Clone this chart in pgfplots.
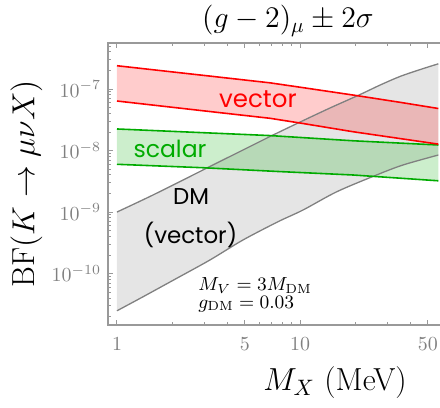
\RequirePackage{fix-cm}
\documentclass[border=0pt]{standalone}
\usepackage{fontspec}
\newfontfamily\annot{Poppins}
\usepackage{pgfplots}
\usepackage{pgfplotstable}
\pgfplotsset{compat=1.18}
\usepgfplotslibrary{fillbetween}
\usetikzlibrary{calc}
\definecolor{mgreen}{rgb}{0,0.67,0}
\definecolor{mred}{rgb}{1,0,0}
\definecolor{axgray}{gray}{0.6}
\definecolor{lblgray}{gray}{0.5}
\definecolor{dmgray}{gray}{0.5}

\pgfplotstableread{
x y
1 2.39e-7
2.95 1.67e-7
6.86 1.26e-7
10 1.07e-7
19.5 7.98e-8
35.2 6.08e-8
57 4.82e-8
}\redup
\pgfplotstableread{
x y
1 6.38e-8
2.95 4.43e-8
6.86 3.34e-8
10 2.80e-8
19.5 2.02e-8
57 1.27e-8
}\redlo
\pgfplotstableread{
x y
1 2.24e-8
2.95 1.95e-8
6.86 1.75e-8
19.5 1.44e-8
57 1.23e-8
}\grup
\pgfplotstableread{
x y
1 5.97e-9
2.95 5.25e-9
7.58 4.56e-9
19.5 4.00e-9
57 3.22e-9
}\grlo
\pgfplotstableread{
x y
1 1.0e-9
1.514 1.79e-9
2.21 3.13e-9
3.22 5.50e-9
4.70 9.64e-9
6.86 1.69e-8
10 2.90e-8
14.58 4.91e-8
21.3 8.14e-8
27.4 1.16e-7
35.2 1.60e-7
45.3 2.07e-7
57 2.57e-7
}\dmup
\pgfplotstableread{
x y
1 2.48e-11
1.39 4.20e-11
2.12 8.36e-11
3.22 1.66e-10
4.88 3.51e-10
7.58 6.95e-10
10.4 1.08e-9
15.9 2.14e-9
26.2 4.00e-9
36.5 5.81e-9
57 8.45e-9
}\dmlo

\begin{document}
\begin{tikzpicture}
\begin{axis}[
  xmode=log, ymode=log,
  scale only axis, width=172bp, height=141bp,
  xmin=0.893, xmax=67.7, ymin=1.456e-11, ymax=5.6e-7,
  xtick={1,5,10,50}, xticklabels={$1$,$5$,$10$,$50$},
  minor xtick={2,3,4,6,7,8,9,20,30,40},
  ytick={1e-10,1e-9,1e-8,1e-7},
  yticklabels={$10^{-10}$,$10^{-9}$,$10^{-8}$,$10^{-7}$},
  minor ytick={2e-11,3e-11,4e-11,5e-11,6e-11,7e-11,8e-11,9e-11,
               2e-10,3e-10,4e-10,5e-10,6e-10,7e-10,8e-10,9e-10,
               2e-9,3e-9,4e-9,5e-9,6e-9,7e-9,8e-9,9e-9,
               2e-8,3e-8,4e-8,5e-8,6e-8,7e-8,8e-8,9e-8,
               2e-7,3e-7,4e-7,5e-7},
  tick align=inside,
  xticklabel pos=lower, yticklabel pos=left,
  xtick pos=both, ytick pos=both,
  major tick length=2.5bp, minor tick length=1.4bp,
  axis line style={axgray, line width=0.6pt},
  every tick/.style={axgray, line width=0.5pt},
  tick label style={lblgray, font=\fontsize{10}{12}\selectfont},
  xticklabel style={yshift=-3bp},
  title={$(g-2)_\mu \pm 2\sigma$},
  title style={at={(axis description cs:0.523,1)}, anchor=south, yshift=-2.8bp, inner sep=0pt, font=\fontsize{15}{17}\selectfont},
  xlabel={$M_X$ (MeV)},
  xlabel style={at={(axis description cs:0.660,0)}, anchor=north, yshift=-20.8bp, inner sep=0pt, font=\fontsize{16}{19}\selectfont},
  ylabel={$\mathrm{BF}(K \to \mu\nu X)$},
  ylabel style={at={(axis description cs:-0.285,0.5)}, anchor=north, inner sep=0pt, font=\fontsize{16}{19}\selectfont},
]
\coordinate (sw) at (rel axis cs:0,0);
\addplot[name path=dmu, draw=none, forget plot] table {\dmup};
\addplot[name path=dml, draw=none, forget plot] table {\dmlo};
\addplot[black, fill opacity=0.1, draw=none] fill between[of=dmu and dml];
\addplot[name path=gu, draw=none, forget plot] table {\grup};
\addplot[name path=gl, draw=none, forget plot] table {\grlo};
\addplot[mgreen, fill opacity=0.2, draw=none] fill between[of=gu and gl];
\addplot[name path=ru, draw=none, forget plot] table {\redup};
\addplot[name path=rl, draw=none, forget plot] table {\redlo};
\addplot[mred, fill opacity=0.2, draw=none] fill between[of=ru and rl];

\addplot[dmgray, line width=0.65pt, smooth] table {\dmup};
\addplot[dmgray, line width=0.65pt, smooth] table {\dmlo};
\addplot[mgreen, line width=0.8pt] table {\grup};
\addplot[mgreen, line width=0.8pt] table {\grlo};
\addplot[mred, line width=0.8pt] table {\redup};
\addplot[mred, line width=0.8pt] table {\redlo};

\node[font=\annot\fontsize{12.3}{14}\selectfont, text=mred] at (axis cs:5.89,6.88e-8) {vector};
\node[font=\annot\fontsize{11.8}{14}\selectfont, text=mgreen] at (axis cs:1.948,1.08e-8) {scalar};
\node[font=\annot\fontsize{11.5}{14}\selectfont, text=black] at (axis cs:2.54,1.82e-9) {DM};
\node[font=\annot\fontsize{11.5}{14}\selectfont, text=black] at (axis cs:2.522,4.31e-10) {(vector)};
\node[anchor=base west, inner sep=0pt, font=\fontsize{9.5}{11}\selectfont] at (axis cs:2.77,5.25e-11) {$M_V = 3M_{\mathrm{DM}}$};
\node[anchor=base west, inner sep=0pt, font=\fontsize{9.5}{11}\selectfont] at (axis cs:2.77,2.72e-11) {$g_{\mathrm{DM}} = 0.03$};
\end{axis}
\pgfresetboundingbox
\path ($(sw)+(-54bp,-41.5bp)$) rectangle ($(sw)+(166bp,162.5bp)$);
\end{tikzpicture}
\end{document}
